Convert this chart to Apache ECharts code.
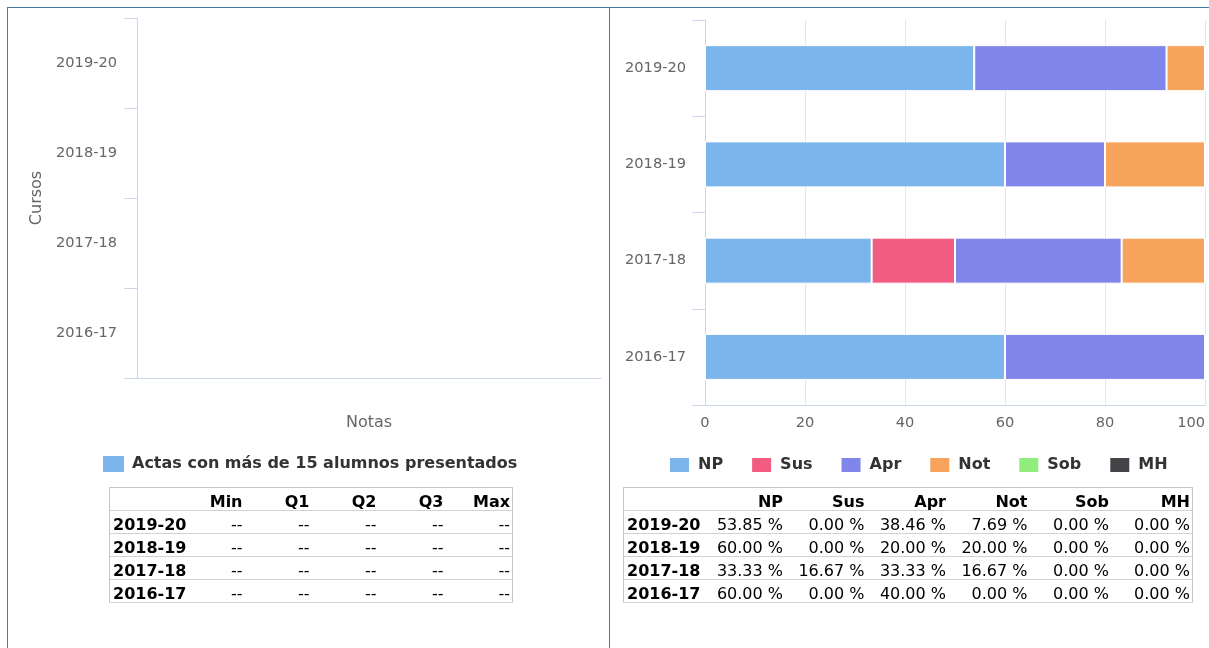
<!DOCTYPE html>
<html>
<head>
<meta charset="utf-8">
<script src="https://cdn.jsdelivr.net/npm/echarts@6/dist/echarts.min.js"></script>
<style>
  html, body { margin:0; padding:0; background:#fff; width:1209px; height:648px; overflow:hidden; font-family:"DejaVu Sans", sans-serif; }
  #chart { position:absolute; left:0; top:0; width:1209px; height:648px; }
  .line { position:absolute; background:#4a78a8; }
  table.dt { position:absolute; border-collapse:collapse; table-layout:fixed; font-family:"DejaVu Sans", sans-serif; font-size:16px; color:#000; border:1px solid #c4c4c4; }
  table.dt td, table.dt th { padding:5px 2px 0 2px; line-height:17px; white-space:nowrap; overflow:visible; text-align:right; }
  table.dt th { font-weight:bold; }
  table.dt td.lab { font-weight:bold; text-align:left; padding-left:3px; }
  table.dt tr { border-bottom:1px solid #d2d2d2; }
</style>
</head>
<body>
<div id="chart"></div>
<div class="line" style="left:7px;top:7px;width:1202px;height:1px;"></div>
<div class="line" style="left:7px;top:7px;width:1px;height:641px;"></div>
<div class="line" style="left:609px;top:7px;width:1px;height:641px;"></div>
<table class="dt" id="tblBox" style="left:109px;top:487px;"></table>
<table class="dt" id="tblPct" style="left:623px;top:487px;"></table>
<script>
// ---- data ----
const cursos = ['2019-20', '2018-19', '2017-18', '2016-17'];
const boxName = 'Actas con más de 15 alumnos presentados';
const boxCols = ['Min', 'Q1', 'Q2', 'Q3', 'Max'];
const boxData = [];            // no boxplot data available
const pctCols = ['NP', 'Sus', 'Apr', 'Not', 'Sob', 'MH'];
const NP  = [53.85, 60.00, 33.33, 60.00];
const Sus = [0.00, 0.00, 16.67, 0.00];
const Apr = [38.46, 20.00, 33.33, 40.00];
const Not = [7.69, 20.00, 16.67, 0.00];
const Sob = [0.00, 0.00, 0.00, 0.00];
const MH  = [0.00, 0.00, 0.00, 0.00];
const pctSeries = [NP, Sus, Apr, Not, Sob, MH];
const colors = ['#7cb5ec', '#f15c80', '#8085e9', '#f7a35c', '#90ed7d', '#434348'];
const xTicks = { min: 0, max: 100, interval: 20 };

// ---- chart ----
const font = '"DejaVu Sans", sans-serif';
const axisCol = '#ccd6eb';
const chart = echarts.init(document.getElementById('chart'), null, { renderer: 'canvas' });

const catAxis = (gridIndex, margin, pad, nameOpts) => Object.assign({
  type: 'category', gridIndex, data: cursos, inverse: true,
  axisLine: { show: true, lineStyle: { color: axisCol, width: 1 } },
  axisTick: { show: true, length: 13, lineStyle: { color: axisCol } },
  axisLabel: { color: '#666666', fontSize: 14.6, fontFamily: font, margin, padding: pad },
  splitLine: { show: false }
}, nameOpts || {});

const option = {
  animation: false,
  textStyle: { fontFamily: font },
  grid: [
    { left: 137, top: 18, width: 464, height: 360, containLabel: false },
    { left: 705, top: 20, width: 500, height: 385, containLabel: false }
  ],
  legend: [
    {
      left: 103, top: 456, padding: 0, itemWidth: 21, itemHeight: 16, icon: 'rect',
      data: [{ name: boxName, itemStyle: { color: colors[0], borderWidth: 0 } }],
      textStyle: { fontSize: 16, fontWeight: 'bold', color: '#333333', fontFamily: font, padding: [0, 0, 0, 3] },
      selectedMode: false
    },
    {
      left: 668, top: 456, padding: 0, itemWidth: 21, itemHeight: 16, itemGap: 27, icon: 'rect',
      data: pctCols,
      textStyle: { fontSize: 16, fontWeight: 'bold', color: '#333333', fontFamily: font, padding: [0, 0, 0, 3] },
      selectedMode: false
    }
  ],
  xAxis: [
    {
      type: 'value', gridIndex: 0, min: 0, max: 1,
      name: 'Notas', nameLocation: 'middle', nameGap: 37,
      nameTextStyle: { color: '#666666', fontSize: 16, fontFamily: font },
      axisLine: { show: true, lineStyle: { color: axisCol } },
      axisTick: { show: false }, axisLabel: { show: false }, splitLine: { show: false }
    },
    {
      type: 'value', gridIndex: 1, min: xTicks.min, max: xTicks.max, interval: xTicks.interval,
      axisLine: { show: true, lineStyle: { color: axisCol } },
      axisTick: { show: false },
      axisLabel: { color: '#666666', fontSize: 14.6, fontFamily: font, margin: 11, alignMaxLabel: 'right' },
      splitLine: { show: true, lineStyle: { color: '#e6e6e6' } }
    }
  ],
  yAxis: [
    catAxis(0, 20, [4, 0, 0, 0], {
      name: 'Cursos', nameLocation: 'middle', nameGap: 92, nameRotate: 90,
      nameTextStyle: { color: '#666666', fontSize: 16, fontFamily: font }
    }),
    catAxis(1, 19, [1, 0, 0, 0])
  ],
  series: [
    {
      type: 'boxplot', name: boxName, xAxisIndex: 0, yAxisIndex: 0,
      data: boxData, itemStyle: { color: colors[0], borderColor: colors[0] }
    }
  ].concat(pctCols.map((name, i) => ({
    type: 'bar', name, xAxisIndex: 1, yAxisIndex: 1, stack: 'pct',
    barWidth: 46, data: pctSeries[i],
    itemStyle: { color: colors[i], borderColor: '#ffffff', borderWidth: 1 }
  })))
};
chart.setOption(option);

// ---- tables ----
function buildTable(el, cols, firstW, colW, rows) {
  let html = '<colgroup><col style="width:' + firstW + 'px">' +
    cols.map(() => '<col style="width:' + colW + 'px">').join('') + '</colgroup>';
  html += '<tr><th></th>' + cols.map(c => '<th>' + c + '</th>').join('') + '</tr>';
  rows.forEach(r => {
    html += '<tr><td class="lab">' + r.label + '</td>' + r.vals.map(v => '<td>' + v + '</td>').join('') + '</tr>';
  });
  el.innerHTML = html;
  el.style.width = (firstW + colW * cols.length) + 'px';
}
buildTable(document.getElementById('tblBox'), boxCols, 68, 67, cursos.map((c, i) => ({
  label: c, vals: boxCols.map((_, j) => (boxData[i] ? boxData[i][j] : '--'))
})));
buildTable(document.getElementById('tblPct'), pctCols, 80, 81.5, cursos.map((c, i) => ({
  label: c, vals: pctSeries.map(s => s[i].toFixed(2) + ' %')
})));
</script>
</body>
</html>
